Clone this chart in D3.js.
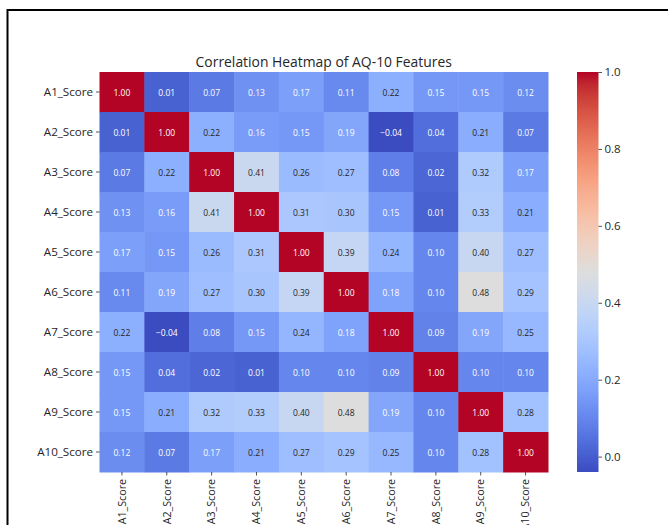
<!DOCTYPE html>
<html>
<head>
<meta charset="utf-8">
<script src="https://cdn.jsdelivr.net/npm/d3@7"></script>
<style>
  html, body { margin: 0; padding: 0; background: #fff; }
  svg { display: block; font-family: "Open Sans", "Noto Sans", sans-serif; }
</style>
</head>
<body>
<svg id="chart" width="668" height="525"></svg>
<script>
// AQ-10 item names (rows and columns of the matrix)
const features = ["A1_Score", "A2_Score", "A3_Score", "A4_Score", "A5_Score",
                  "A6_Score", "A7_Score", "A8_Score", "A9_Score", "A10_Score"];

// Pairwise correlations, one array per row
const rowA1  = [1.00, 0.01, 0.07, 0.13, 0.17, 0.11, 0.22, 0.15, 0.15, 0.12];
const rowA2  = [0.01, 1.00, 0.22, 0.16, 0.15, 0.19, -0.04, 0.04, 0.21, 0.07];
const rowA3  = [0.07, 0.22, 1.00, 0.41, 0.26, 0.27, 0.08, 0.02, 0.32, 0.17];
const rowA4  = [0.13, 0.16, 0.41, 1.00, 0.31, 0.30, 0.15, 0.01, 0.33, 0.21];
const rowA5  = [0.17, 0.15, 0.26, 0.31, 1.00, 0.39, 0.24, 0.10, 0.40, 0.27];
const rowA6  = [0.11, 0.19, 0.27, 0.30, 0.39, 1.00, 0.18, 0.10, 0.48, 0.29];
const rowA7  = [0.22, -0.04, 0.08, 0.15, 0.24, 0.18, 1.00, 0.09, 0.19, 0.25];
const rowA8  = [0.15, 0.04, 0.02, 0.01, 0.10, 0.10, 0.09, 1.00, 0.10, 0.10];
const rowA9  = [0.15, 0.21, 0.32, 0.33, 0.40, 0.48, 0.19, 0.10, 1.00, 0.28];
const rowA10 = [0.12, 0.07, 0.17, 0.21, 0.27, 0.29, 0.25, 0.10, 0.28, 1.00];

const matrix = [rowA1, rowA2, rowA3, rowA4, rowA5, rowA6, rowA7, rowA8, rowA9, rowA10];

// Colour bar tick values
const colorbarTicks = [0.0, 0.2, 0.4, 0.6, 0.8, 1.0];

const title = "Correlation Heatmap of AQ-10 Features";

// Diverging cool-warm palette (Moreland), 33 anchor colours
const coolwarmStops = [
  [59,76,192],[68,90,204],[77,104,215],[87,117,225],[98,130,234],[108,142,241],
  [119,154,247],[130,165,251],[141,176,254],[152,185,255],[163,194,255],[174,201,253],
  [184,208,249],[194,213,244],[204,217,238],[213,219,230],[221,221,221],[229,216,209],
  [236,211,197],[241,204,185],[245,196,173],[247,187,160],[247,177,148],[247,166,135],
  [244,154,123],[241,141,111],[236,127,99],[229,112,88],[222,96,77],[213,80,66],
  [203,62,56],[192,40,47],[180,4,38]
].map(c => d3.rgb(c[0], c[1], c[2]));
const coolwarm = d3.piecewise(d3.interpolateRgb, coolwarmStops);

const FONT = "'Open Sans', 'Noto Sans', sans-serif";
const svg = d3.select("#chart");

// figure frame
svg.append("rect")
  .attr("x", 7.5).attr("y", 10)
  .attr("width", 720).attr("height", 560)
  .attr("fill", "none").attr("stroke", "#000").attr("stroke-width", 2);

const plot = { left: 99.5, top: 72, width: 448.5, height: 400 };

const x = d3.scaleBand().domain(features).range([plot.left, plot.left + plot.width]);
const y = d3.scaleBand().domain(features).range([plot.top, plot.top + plot.height]);

const allValues = matrix.flat();
const vmin = d3.min(allValues), vmax = d3.max(allValues);
const color = d3.scaleSequential(coolwarm).domain([vmin, vmax]);

function luminance(c) {
  const lin = v => { v /= 255; return v <= 0.03928 ? v / 12.92 : Math.pow((v + 0.055) / 1.055, 2.4); };
  const r = d3.rgb(c);
  return 0.2126 * lin(r.r) + 0.7152 * lin(r.g) + 0.0722 * lin(r.b);
}

const cells = [];
matrix.forEach((row, i) => row.forEach((v, j) => cells.push({ r: features[i], c: features[j], v })));

const g = svg.append("g");
g.selectAll("rect.cell").data(cells).join("rect")
  .attr("class", "cell")
  .attr("x", d => x(d.c)).attr("y", d => y(d.r))
  .attr("width", x.bandwidth() + 0.5).attr("height", y.bandwidth() + 0.5)
  .attr("fill", d => color(d.v));

g.selectAll("text.val").data(cells).join("text")
  .attr("class", "val")
  .attr("x", d => x(d.c) + x.bandwidth() / 2)
  .attr("y", d => y(d.r) + y.bandwidth() / 2)
  .attr("text-anchor", "middle").attr("dominant-baseline", "central")
  .attr("font-size", 8.5)
  .attr("fill", d => luminance(color(d.v)) > 0.408 ? "#262626" : "#ffffff")
  .text(d => d3.format(".2f")(d.v));

// axes
const yAxis = svg.append("g")
  .attr("transform", `translate(${plot.left},0)`)
  .call(d3.axisLeft(y).tickSize(3.5).tickPadding(3));
const xAxis = svg.append("g")
  .attr("transform", `translate(0,${plot.top + plot.height})`)
  .call(d3.axisBottom(x).tickSize(3.5).tickPadding(3));

[xAxis, yAxis].forEach(a => {
  a.select(".domain").remove();
  a.selectAll(".tick line").attr("stroke", "#262626").attr("stroke-width", 0.8);
  a.selectAll(".tick text").attr("fill", "#262626").attr("font-family", FONT);
});
yAxis.selectAll(".tick text").attr("font-size", 11.6);
xAxis.selectAll(".tick text")
  .attr("font-size", 10.7)
  .attr("transform", "rotate(-90)")
  .attr("text-anchor", "end")
  .attr("dy", "0.35em")
  .attr("x", -7).attr("y", 0);

// title
svg.append("text")
  .attr("x", plot.left + plot.width / 2).attr("y", 67)
  .attr("text-anchor", "middle").attr("font-size", 13.9).attr("fill", "#262626")
  .attr("font-family", FONT)
  .text(title);

// colour bar
const cb = { left: 577, width: 21.5, top: plot.top, height: plot.height };
const cbScale = d3.scaleLinear().domain([vmin, vmax]).range([cb.top + cb.height, cb.top]);

const defs = svg.append("defs");
const grad = defs.append("linearGradient").attr("id", "cbgrad")
  .attr("x1", 0).attr("y1", 1).attr("x2", 0).attr("y2", 0);
d3.range(0, 1.0001, 1 / 64).forEach(t => {
  grad.append("stop").attr("offset", t).attr("stop-color", coolwarm(t));
});
svg.append("rect")
  .attr("x", cb.left).attr("y", cb.top)
  .attr("width", cb.width).attr("height", cb.height)
  .attr("fill", "url(#cbgrad)");

const cbAxis = svg.append("g")
  .attr("transform", `translate(${cb.left + cb.width},0)`)
  .call(d3.axisRight(cbScale).tickValues(colorbarTicks).tickFormat(d3.format(".1f")).tickSize(3.5).tickPadding(2.5));
cbAxis.select(".domain").remove();
cbAxis.selectAll(".tick line").attr("stroke", "#262626").attr("stroke-width", 0.8);
cbAxis.selectAll(".tick text").attr("fill", "#262626").attr("font-size", 11.5)
  .attr("font-family", FONT);
</script>
</body>
</html>
